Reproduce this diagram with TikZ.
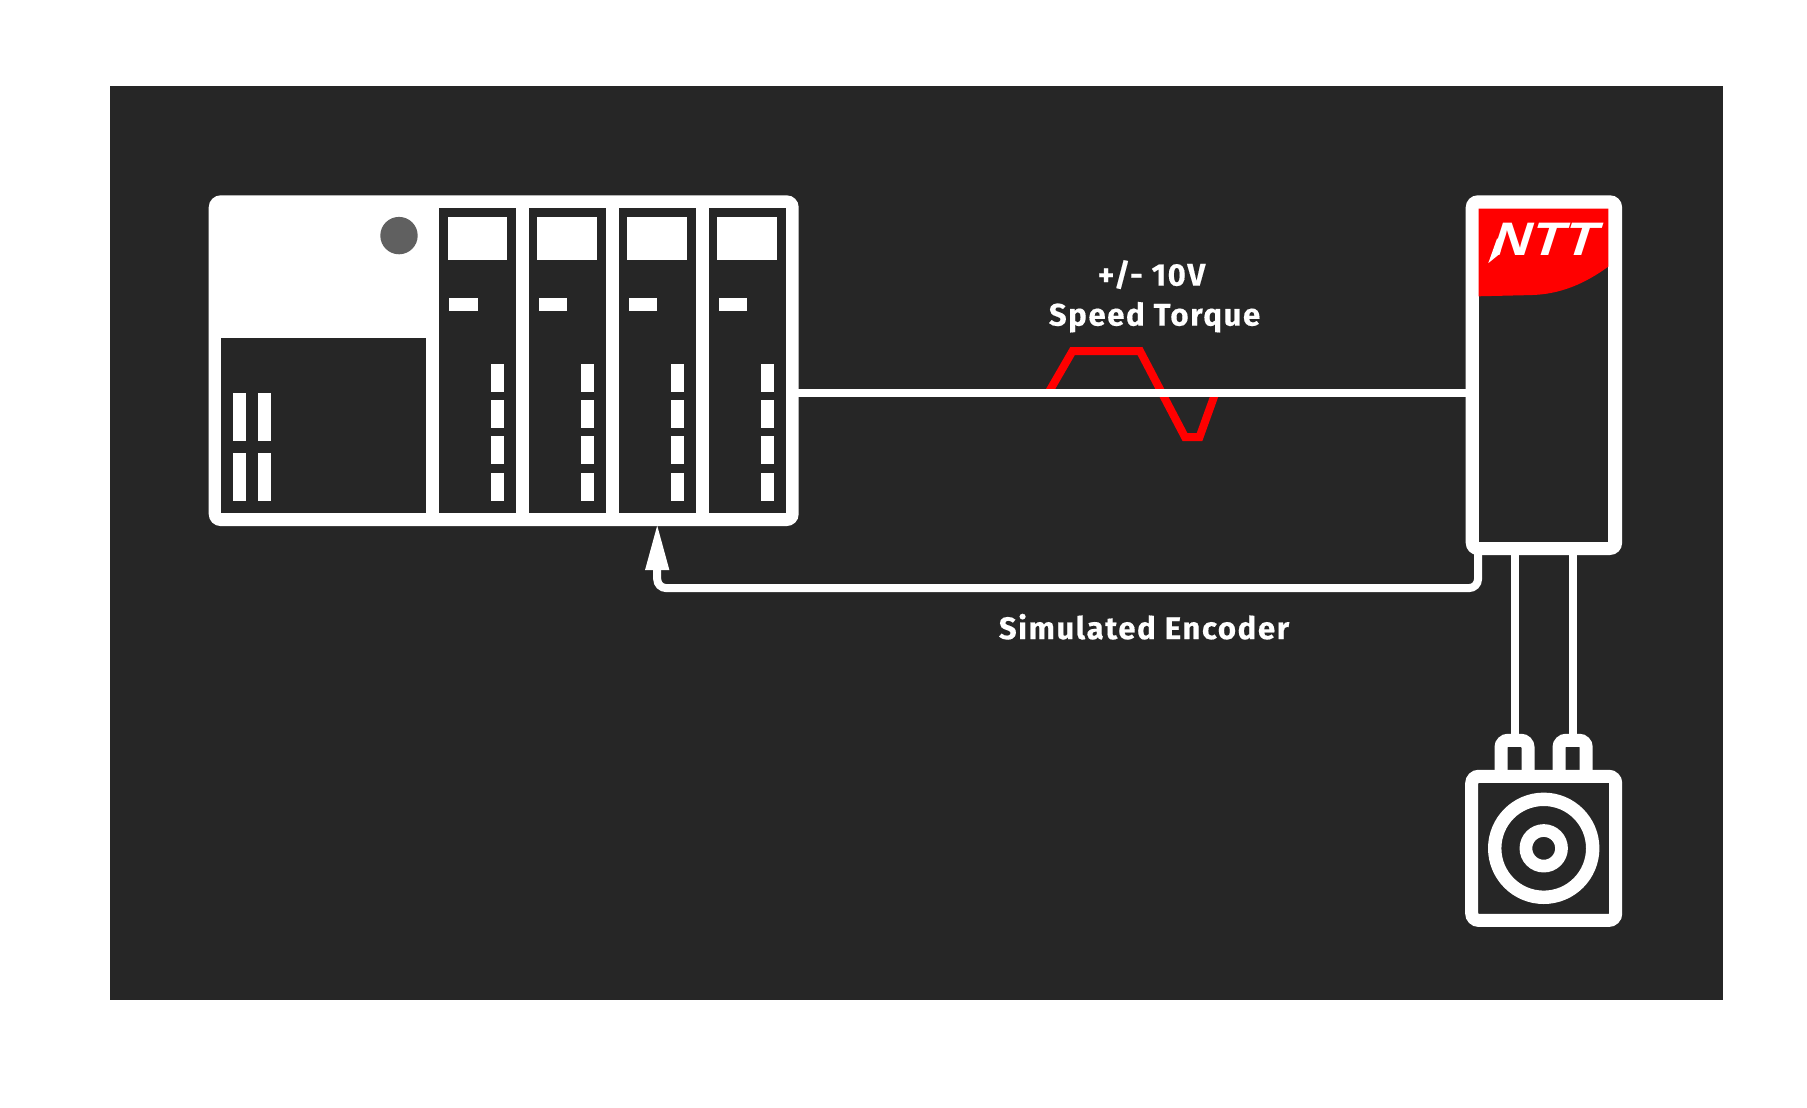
\documentclass[tikz,border=0pt]{standalone}
\usepackage{fontspec}
\newfontfamily\lblfont[LetterSpace=5,FakeBold=0.35]{Fira Sans Bold}
\newfontfamily\logofont[FakeSlant=0.32,FakeStretch=1.14]{Liberation Sans Bold}
\definecolor{panel}{HTML}{262626}
\definecolor{ntred}{HTML}{FF0000}
\definecolor{led}{HTML}{606060}
\tikzset{
  x=0.5pt,y=-0.5pt,
  wire/.style={draw=white,line width=4pt},
  thick frame/.style={draw=white,line width=6.5pt,rounded corners=3.5pt},
  lbl/.style={text=white,font=\lblfont\fontsize{15.6pt}{17pt}\selectfont,inner sep=0pt,anchor=base},
  white block/.style={fill=white,draw=none},
  dark block/.style={fill=panel,draw=none}
}
\newcommand{\plcmodule}[1]{%
  \fill[panel] (#1,207.3) rectangle ++(77,305);
  \fill[white] (#1+8.4,216.3) rectangle ++(59.7,43);
  \fill[white] (#1+10,297) rectangle ++(28.4,13);
  \fill[white] (#1+52,363) rectangle ++(12.7,28.3);
  \fill[white] (#1+52,399.3) rectangle ++(12.7,28.3);
  \fill[white] (#1+52,435.7) rectangle ++(12.7,28);
  \fill[white] (#1+52,472) rectangle ++(12.7,28);
}
\begin{document}
\begin{tikzpicture}
\useasboundingbox (0,0) rectangle (1807,1107);
\fill[white] (0,0) rectangle (1807,1107);
\fill[panel] (110.3,85.8) rectangle (1723.3,999.5);
\begin{scope}[yshift=-0.3pt]

% red waveform under the signal line
\draw[draw=ntred,line width=4pt,miter limit=10] (1048.5,392) -- (1072.5,350.5) -- (1140,350.5) -- (1185,436.5) -- (1199.5,436.5) -- (1215.5,392);

% PLC rack
\node[white block,rounded corners=6pt,minimum width=295pt,minimum height=165.4pt,inner sep=0pt,anchor=north west] (plc) at (208.3,194.3) {};
\fill[panel] (221,337) rectangle (426,512.3);
\fill[led] (399,235) circle[radius=18.7];
\fill[white] (233,392.3) rectangle (246,440);
\fill[white] (258.3,392.3) rectangle (271.3,440);
\fill[white] (233,452.7) rectangle (246,500);
\fill[white] (258.3,452.7) rectangle (271.3,500);
\plcmodule{439.3}
\plcmodule{529}
\plcmodule{619}
\plcmodule{709}

% Drive
\node[white block,rounded corners=6pt,minimum width=78.2pt,minimum height=179.85pt,inner sep=0pt,anchor=north west] (drive) at (1465.3,194.3) {};
\fill[panel] (1478.7,208) rectangle (1608.3,541);
\fill[ntred] (1478.7,208) -- (1608.3,208) -- (1608.3,266) .. controls (1585,283) and (1560,294) .. (1530,294.5) -- (1478.7,295.7) -- cycle;
\node[text=white,font=\logofont\fontsize{23.5pt}{24pt}\selectfont,inner sep=0pt,anchor=base] (logo) at (1542,255) {NTT};
\fill[white] (1488.3,262.5) -- (1497,238) -- (1502,238) -- (1500,253) -- cycle;

% Motor
\coordinate (c1) at (1543.7,847.7);
\coordinate (wire1) at (1514.7,735);
\coordinate (wire2) at (1572.7,735);
\draw[thick frame] (1501,776) -- (1501,739.7) -- (1528,739.7) -- (1528,776);
\draw[thick frame] (1559,776) -- (1559,739.7) -- (1586.2,739.7) -- (1586.2,776);
\draw[thick frame] (1471.7,775.7) rectangle (1615.7,919.8);
\draw[draw=white,line width=6.7pt] (c1) circle[radius=49];
\draw[draw=white,line width=6.35pt] (c1) circle[radius=17.8];

% Connectors
\draw[wire] ([xshift=-1pt]plc.east |- 0,392.5) -- ([xshift=1pt]drive.west |- 0,392.5);
\draw[wire] ([yshift=1pt]drive.south -| 1514.7,0) -- (wire1);
\draw[wire] ([yshift=1pt]drive.south -| 1572.7,0) -- (wire2);
\coordinate (fbtop) at (1478,553);
\coordinate (tip) at (657.2,525);
\draw[wire,rounded corners=4.5pt] (fbtop) -- (1478,587.5) -- (657.2,587.5) -- (657.2,566);
\fill[white] (tip) -- (669.4,569.5) -- (645,569.5) -- cycle;

% Labels
\node[lbl] (l1) at (1151.5,285) {+/- 10V};
\node[lbl] (l2) at (1154.5,325) {Speed Torque};
\node[lbl] (l3) at (1144,638.5) {Simulated Encoder};
\end{scope}
\end{tikzpicture}
\end{document}
